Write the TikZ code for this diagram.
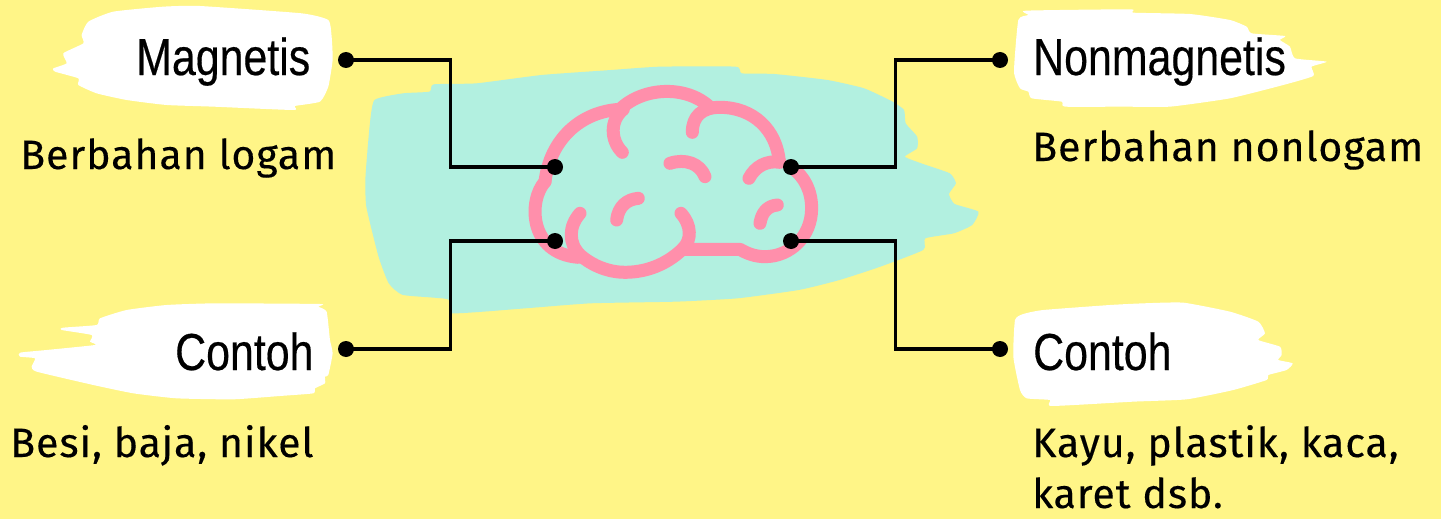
\documentclass[tikz,border=0pt]{standalone}
\usepackage{fontspec}
\usetikzlibrary{calc}
\setmainfont{Liberation Sans}
\newfontfamily\bodyfont[LetterSpace=2.4,FakeBold=0.3]{Fira Sans}
\newfontfamily\headfont[FakeBold=0.4]{Liberation Sans}
\definecolor{bgyellow}{HTML}{FFF587}
\definecolor{blobteal}{HTML}{B2F0E0}
\definecolor{brainpink}{HTML}{FF8FAB}
\tikzset{
  brush/.style={fill=white,draw=none},
  wire/.style={draw=black,line width=3.8pt,line join=miter},
  dot/.style={circle,fill=black,inner sep=0pt,minimum size=16pt},
  brainline/.style={draw=brainpink,line width=13pt,line cap=round,line join=round},
  headlabel/.style={anchor=base west,inner sep=0pt,font=\fontsize{52}{52}\headfont},
  bodylabel/.style={anchor=base west,inner sep=0pt,font=\fontsize{41}{51}\bodyfont}
}
\newcommand{\headtxt}[1]{\scalebox{0.825}[1]{#1}}
\begin{document}
\begin{tikzpicture}[x=1pt,y=-1pt]
\useasboundingbox (0,0) rectangle (1441,519);
\fill[bgyellow] (0,0) rectangle (1441,519);
% teal blob
\begin{scope}[shift={(350,50)},x=0.408pt,y=-0.3333pt]
\fill[blobteal] plot[smooth cycle,tension=.3] coordinates {(60,150)(130,130)(195,125)(205,103)(310,100)(470,75)(640,60)(760,50)(945,50)(960,70)(1040,72)(1170,90)(1260,115)(1330,155)(1358,180)(1362,220)(1390,260)(1390,295)(1360,320)(1400,340)(1470,370)(1485,400)(1468,432)(1482,462)(1540,485)(1525,525)(1480,550)(1410,565)(1405,600)(1300,650)(1200,690)(1100,720)(950,745)(800,755)(590,760)(430,775)(250,790)(240,748)(130,735)(95,700)(70,620)(40,470)(38,380)(48,230)};
\end{scope}
% white brushes
\begin{scope}[x=0.3333pt,y=-0.3333pt]
\fill[brush] plot[smooth cycle,tension=.3] coordinates {(490,20)(600,18)(905,40)(985,60)(995,110)(998,180)(985,260)(960,305)(885,318)(880,330)(640,320)(500,315)(380,300)(290,280)(235,255)(235,235)(165,215)(160,205)(200,190)(190,160)(250,130)(245,105)(265,65)(340,35)};
\end{scope}
\begin{scope}[shift={(0,290)},x=0.3333pt,y=-0.3333pt]
\fill[brush] plot[smooth cycle,tension=.3] coordinates {(645,40)(960,42)(955,50)(980,65)(990,150)(998,190)(985,255)(975,260)(975,280)(945,295)(940,310)(840,318)(700,328)(530,325)(400,310)(280,285)(110,245)(95,230)(105,205)(60,200)(60,188)(140,180)(285,165)(270,155)(275,135)(185,120)(190,113)(290,105)(300,85)(380,60)(500,45)};
\end{scope}
\begin{scope}[shift={(1000,300)},x=0.3333pt,y=-0.3333pt]
\fill[brush] plot[smooth cycle,tension=.3] coordinates {(130,30)(330,15)(430,10)(550,8)(690,35)(775,65)(795,100)(775,120)(840,140)(845,165)(835,180)(878,190)(860,210)(805,225)(800,240)(700,270)(560,298)(400,305)(155,318)(150,300)(80,295)(60,270)(40,170)(45,60)(70,42)};
\end{scope}
\begin{scope}[shift={(990,0)},x=0.3333pt,y=-0.3333pt]
\fill[brush] plot[smooth cycle,tension=.3] coordinates {(108,32)(420,28)(430,38)(600,42)(720,60)(770,80)(785,100)(885,108)(870,120)(900,140)(915,175)(1010,185)(965,200)(970,228)(880,255)(720,295)(540,320)(400,320)(225,320)(215,305)(125,295)(115,275)(90,265)(72,215)(85,60)(115,45)};
\end{scope}
% brain
\begin{scope}[shift={(500,70)},x=0.3333pt,y=-0.3333pt]
\draw[brainline] (135,335) .. controls (150,210) and (240,125) .. (360,118);
\draw[brainline] (360,118) .. controls (430,50) and (560,45) .. (630,112);
\draw[brainline] (577,187) .. controls (577,140) and (605,112) .. (660,112) .. controls (760,112) and (830,180) .. (838,275);
\draw[brainline] (747,325) .. controls (765,290) and (800,270) .. (840,277);
\draw[brainline] (875,293) .. controls (915,320) and (935,365) .. (935,415) .. controls (935,500) and (870,560) .. (795,560) .. controls (765,560) and (740,550) .. (720,538) -- (555,538);
\draw[brainline] (240,430) .. controls (205,470) and (205,520) .. (240,555) .. controls (280,590) and (330,607) .. (375,607) .. controls (450,607) and (510,575) .. (550,535);
\draw[brainline] (543,430) .. controls (575,465) and (575,510) .. (550,535);
\draw[brainline] (135,335) .. controls (85,390) and (85,550) .. (235,562);
\draw[brainline] (367,247) .. controls (330,210) and (330,150) .. (370,118);
\draw[brainline] (510,280) .. controls (555,265) and (600,280) .. (615,320);
\draw[brainline] (350,450) .. controls (355,410) and (380,388) .. (415,385);
\draw[brainline] (780,460) .. controls (785,430) and (800,408) .. (832,405);
\end{scope}
% dots
\node[dot] (mag) at (346,60) {};
\node[dot] (con) at (346,349) {};
\node[dot] (non) at (1000,60) {};
\node[dot] (cor) at (1000,349) {};
\node[dot] (bl1) at (555,167) {};
\node[dot] (bl2) at (555,241) {};
\node[dot] (br1) at (791,167) {};
\node[dot] (br2) at (791,241) {};
% connectors
\draw[wire] (mag.center) -| ($(mag)!.5!(bl1)$) |- (bl1.center);
\draw[wire] (con.center) -| ($(con)!.5!(bl2)$) |- (bl2.center);
\draw[wire] (non.center) -| ($(non)!.5!(br1)$) |- (br1.center);
\draw[wire] (cor.center) -| ($(cor)!.5!(br2)$) |- (br2.center);
% labels
\node[headlabel] (t1) at (136,75) {\headtxt{Magnetis}};
\node[headlabel] (t2) at (175,370) {\headtxt{Contoh}};
\node[headlabel] (t3) at (1033,75) {\headtxt{Nonmagnetis}};
\node[headlabel] (t4) at (1033,370) {\headtxt{Contoh}};
\node[bodylabel] (b1) at (20,169) {Berbahan logam};
\node[bodylabel] (b2) at (10,457) {Besi, baja, nikel};
\node[bodylabel] (b3) at (1032,161) {Berbahan nonlogam};
\node[bodylabel] (b4) at (1032,457) {Kayu, plastik, kaca,};
\node[bodylabel] (b5) at (1032,508) {karet dsb.};
\end{tikzpicture}
\end{document}
